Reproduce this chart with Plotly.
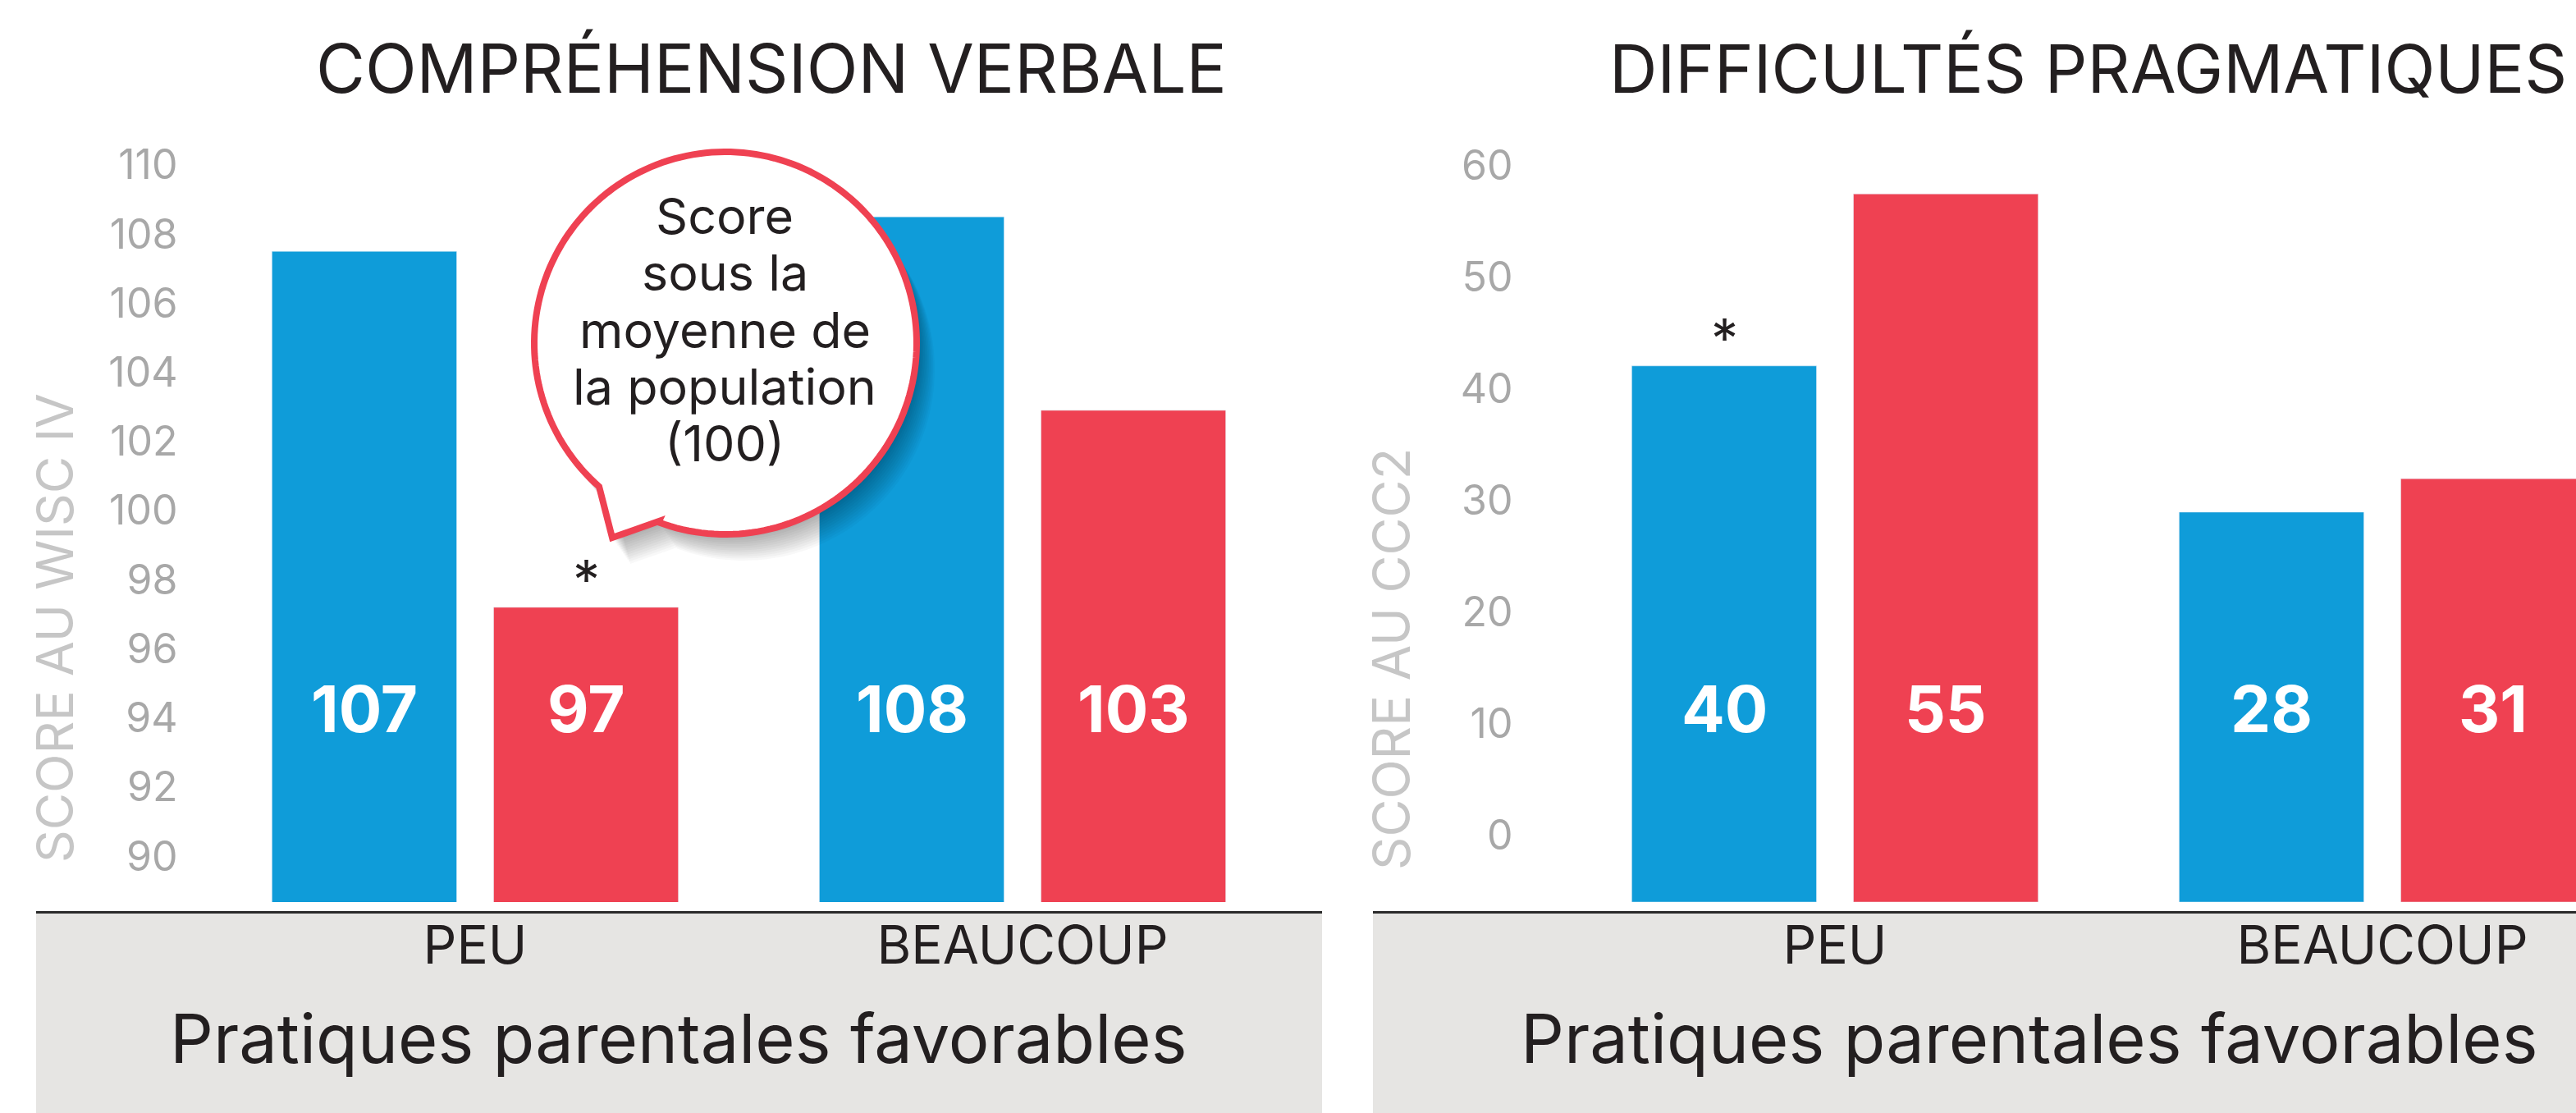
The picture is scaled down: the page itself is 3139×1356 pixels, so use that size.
import numpy as np
import plotly.graph_objects as go

W, H = 3139, 1356

# ---------------- data ----------------
categories = ["PEU", "BEAUCOUP"]
verbal_blue = [107.5, 108.5]
verbal_red = [97.2, 102.9]
verbal_blue_labels = ["107", "108"]
verbal_red_labels = ["97", "103"]
prag_blue = [42.0, 28.9]
prag_red = [57.4, 31.9]
prag_blue_labels = ["40", "28"]
prag_red_labels = ["55", "31"]
verbal_ticks = list(range(90, 111, 2))
prag_ticks = list(range(0, 61, 10))

titles = ["COMPRÉHENSION VERBALE", "DIFFICULTÉS PRAGMATIQUES"]
ytitles = ["SCORE AU WISC IV", "SCORE AU CCC2"]
xtitle = "Pratiques parentales favorables"
bubble_lines = ["Score", "sous la", "moyenne de", "la population", "(100)"]

BLUE = "#0f9cd9"
RED = "#ef4152"
INK = "#231f20"
TICK = "#a8a8a8"
YT = "#c6c6c6"
BAND = "#e6e5e3"
FONT = "Inter"

Y1_RANGE = [88.670, 111.211]
Y2_RANGE = [-6.029, 63.75]


def px(x):
    return x / W


def py(y):
    return 1 - y / H


fig = go.Figure()
fig.add_trace(go.Bar(x=categories, y=verbal_blue, marker_color=BLUE, xaxis="x", yaxis="y", hoverinfo="skip"))
fig.add_trace(go.Bar(x=categories, y=verbal_red, marker_color=RED, xaxis="x", yaxis="y", hoverinfo="skip"))
# pragmatic bars start at the bottom of the plotting area (below zero), as in the original
b2 = Y2_RANGE[0]
fig.add_trace(go.Bar(x=categories, y=[v - b2 for v in prag_blue], base=b2, marker_color=BLUE,
                     xaxis="x2", yaxis="y2", hoverinfo="skip"))
fig.add_trace(go.Bar(x=categories, y=[v - b2 for v in prag_red], base=b2, marker_color=RED,
                     xaxis="x2", yaxis="y2", hoverinfo="skip"))

ydom = [py(1099), py(150)]
common_x = dict(showgrid=False, showline=False, ticks="", zeroline=False,
                tickfont=dict(family=FONT, size=64, color=INK), ticklabelstandoff=10)
common_y = dict(showgrid=False, showline=False, ticks="", zeroline=False,
                tickfont=dict(family=FONT, size=50, color=TICK))

fig.update_layout(
    width=W, height=H,
    margin=dict(l=0, r=0, t=0, b=0),
    paper_bgcolor="white", plot_bgcolor="rgba(0,0,0,0)",
    showlegend=False,
    barmode="group", bargap=0.19, bargroupgap=0.1667,
    xaxis=dict(domain=[px(245.5), px(1579.5)], range=[-0.5, 1.5], anchor="y", **common_x),
    yaxis=dict(domain=ydom, range=Y1_RANGE, anchor="x", tickvals=verbal_ticks,
               ticklabelstandoff=28, **common_y),
    xaxis2=dict(domain=[px(1902.5), 1], range=[-0.5, 1.5 - 97.5 / 667], anchor="y2", **common_x),
    yaxis2=dict(domain=ydom, range=Y2_RANGE, anchor="x2", tickvals=prag_ticks,
                ticklabelstandoff=58, **common_y),
)

shapes = []
# grey bands with dark top rule
for x0, x1 in [(44, 1611), (1673, W)]:
    shapes.append(dict(type="rect", xref="paper", yref="paper", x0=px(x0), x1=px(x1),
                       y0=0, y1=py(1111), fillcolor=BAND, line_width=0, layer="below"))
    shapes.append(dict(type="line", xref="paper", yref="paper", x0=px(x0), x1=px(x1),
                       y0=py(1111.5), y1=py(1111.5), line=dict(color="#2b2b2b", width=3), layer="below"))

# speech bubble
cx, cy, r = 884, 418, 233
angs = np.linspace(np.deg2rad(110.5), np.deg2rad(131.35 - 360), 180)
pts = [(cx + r * np.cos(a), cy + r * np.sin(a)) for a in angs] + [(746, 655), (803, 635)]


def make_path(points, dx=0, dy=0):
    return "M " + " L ".join(f"{px(x + dx):.5f},{py(y + dy):.5f}" for x, y in points) + " Z"


for k in range(12):
    t = k / 11
    shapes.append(dict(type="path", xref="paper", yref="paper",
                       path=make_path(pts, 3 + 19 * t, 5 + 27 * t),
                       fillcolor="rgba(0,0,0,0.028)", line_width=0, layer="above"))
shapes.append(dict(type="path", xref="paper", yref="paper", path=make_path(pts),
                   fillcolor="white", line=dict(color=RED, width=8), layer="above"))
fig.update_layout(shapes=shapes)

ann = []
# panel titles
ann.append(dict(text=titles[0], x=px(940), y=py(84), xref="paper", yref="paper", showarrow=False,
                xanchor="center", yanchor="middle", font=dict(family=FONT, size=82, color=INK)))
ann.append(dict(text=titles[1], x=px(2544), y=py(84), xref="paper", yref="paper", showarrow=False,
                xanchor="center", yanchor="middle", font=dict(family=FONT, size=81, color=INK)))
# y titles
ann.append(dict(text=ytitles[0], x=px(66), y=py(765), xref="paper", yref="paper", showarrow=False,
                textangle=-90, xanchor="center", yanchor="middle", font=dict(family=FONT, size=62, color=YT)))
ann.append(dict(text=ytitles[1], x=px(1695), y=py(803), xref="paper", yref="paper", showarrow=False,
                textangle=-90, xanchor="center", yanchor="middle", font=dict(family=FONT, size=63, color=YT)))
# x titles
ann.append(dict(text=xtitle, x=px(827), y=py(1265), xref="paper", yref="paper", showarrow=False,
                xanchor="center", yanchor="middle", font=dict(family=FONT, size=83, color=INK)))
ann.append(dict(text=xtitle, x=px(2473), y=py(1265), xref="paper", yref="paper", showarrow=False,
                xanchor="center", yanchor="middle", font=dict(family=FONT, size=83, color=INK)))

# value labels inside bars
OFF = 135
for xr, labs, sh in [("x", verbal_blue_labels, -OFF), ("x", verbal_red_labels, OFF),
                     ("x2", prag_blue_labels, -OFF), ("x2", prag_red_labels, OFF)]:
    for c, t in zip(categories, labs):
        ann.append(dict(text=t, x=c, xref=xr, xshift=sh, y=py(863), yref="paper", showarrow=False,
                        xanchor="center", yanchor="middle",
                        font=dict(family=FONT, size=78, color="white", weight=700)))

# significance asterisks
ann.append(dict(text="*", x=categories[0], xref="x", xshift=OFF, y=verbal_red[0], yref="y", yshift=34,
                showarrow=False, xanchor="center", yanchor="middle", font=dict(family=FONT, size=66, color=INK)))
ann.append(dict(text="*", x=categories[0], xref="x2", xshift=-OFF, y=prag_blue[0], yref="y2", yshift=34,
                showarrow=False, xanchor="center", yanchor="middle", font=dict(family=FONT, size=66, color=INK)))

# bubble text
for i, line in enumerate(bubble_lines):
    ann.append(dict(text=line, x=px(883), y=py(263 + 69.3 * i), xref="paper", yref="paper", showarrow=False,
                    xanchor="center", yanchor="middle", font=dict(family=FONT, size=61, color=INK)))

fig.update_layout(annotations=ann)
fig.write_html("out.html", config={"displayModeBar": False},
               post_script="document.body.style.margin='0';document.body.style.overflow='hidden';")
